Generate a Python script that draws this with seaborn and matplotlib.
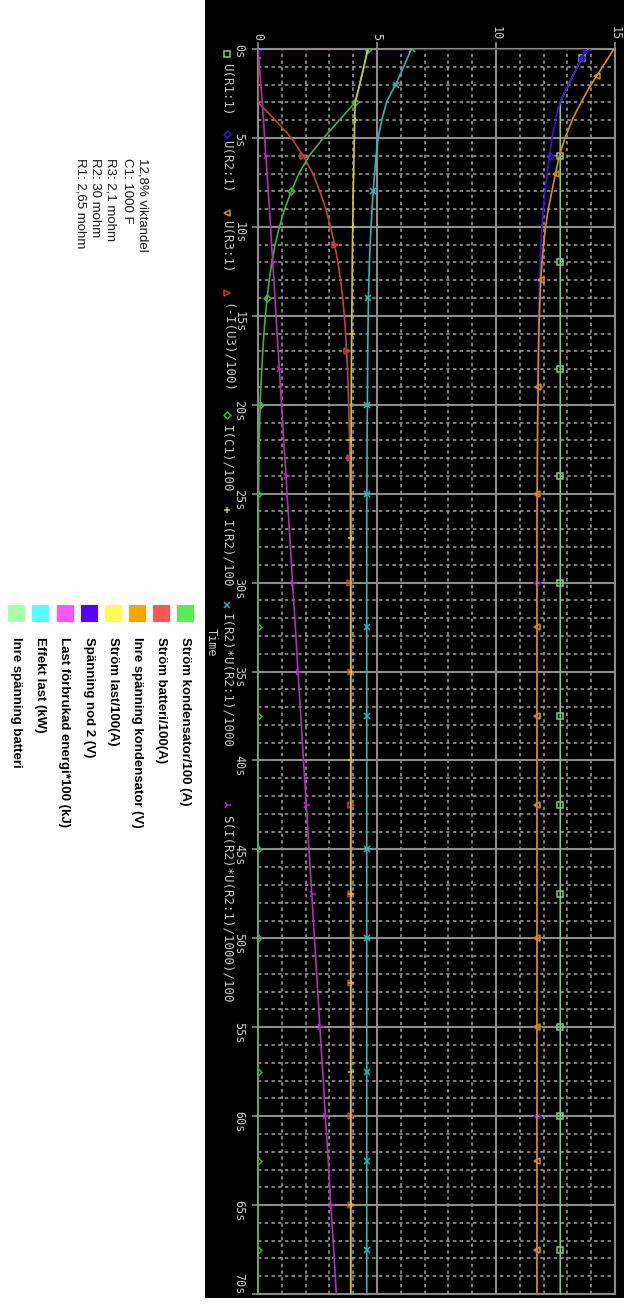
import numpy as np
import pandas as pd
import matplotlib
matplotlib.use("Agg")
import matplotlib.pyplot as plt
import seaborn as sns
from matplotlib.patches import Rectangle
from matplotlib.lines import Line2D

# ---------------- data ----------------
TIME_S = [0, 0, 0.5, 1, 1.5, 2, 2.5, 3, 3.5, 4, 5, 6, 7, 8, 9, 10, 11, 12, 13, 14,
          15, 16, 17, 18, 19, 20, 21, 22, 23, 24, 25, 27.5, 30, 32.5, 35, 37.5, 40,
          42.5, 45, 47.5, 50, 52.5, 55, 57.5, 60, 62.5, 65, 67.5, 70]

U_R1 = [0, 13.8, 13.6, 13.42, 13.23, 13.05, 12.87, 12.7, 12.7, 12.7, 12.7, 12.7, 12.7,
        12.7, 12.7, 12.7, 12.7, 12.7, 12.7, 12.7, 12.7, 12.7, 12.7, 12.7, 12.7, 12.7,
        12.7, 12.7, 12.7, 12.7, 12.7, 12.7, 12.7, 12.7, 12.7, 12.7, 12.7, 12.7, 12.7,
        12.7, 12.7, 12.7, 12.7, 12.7, 12.7, 12.7, 12.7, 12.7, 12.7]
U_R2 = [0, 13.8, 13.6, 13.42, 13.23, 13.05, 12.87, 12.7, 12.58, 12.5, 12.36, 12.25, 12.15,
        12.06, 11.99, 11.93, 11.89, 11.86, 11.83, 11.81, 11.79, 11.78, 11.77, 11.76,
        11.755, 11.75, 11.745, 11.74, 11.735, 11.73, 11.73, 11.72, 11.72, 11.72, 11.72,
        11.72, 11.72, 11.72, 11.72, 11.72, 11.72, 11.72, 11.72, 11.72, 11.72, 11.72,
        11.72, 11.72, 11.72]
U_R3 = [14.95, 14.95, 14.72, 14.48, 14.24, 14.0, 13.78, 13.58, 13.38, 13.2, 12.9, 12.66,
        12.5, 12.35, 12.2, 12.08, 12.0, 11.93, 11.88, 11.85, 11.82, 11.8, 11.79, 11.78,
        11.77, 11.76, 11.75, 11.745, 11.74, 11.735, 11.73, 11.72, 11.72, 11.72, 11.72,
        11.72, 11.72, 11.72, 11.72, 11.72, 11.72, 11.72, 11.72, 11.72, 11.72, 11.72,
        11.72, 11.72, 11.72]
I_U3 = [0, 0, 0, 0, 0, 0, 0, 0, 0.36, 0.73, 1.4, 1.9, 2.3, 2.6, 2.85, 3.05, 3.22, 3.36,
        3.47, 3.56, 3.63, 3.68, 3.72, 3.76, 3.79, 3.81, 3.83, 3.845, 3.855, 3.865, 3.87,
        3.88, 3.885, 3.89, 3.89, 3.89, 3.89, 3.89, 3.89, 3.89, 3.89, 3.89, 3.89, 3.89,
        3.89, 3.89, 3.89, 3.89, 3.89]
I_C1 = [0, 4.62, 4.53, 4.45, 4.36, 4.27, 4.18, 4.08, 3.75, 3.42, 2.75, 2.15, 1.72, 1.4,
        1.12, 0.9, 0.72, 0.58, 0.47, 0.38, 0.31, 0.25, 0.2, 0.16, 0.12, 0.09, 0.07, 0.05,
        0.04, 0.03, 0.02, 0.01, 0, 0, 0, 0, 0, 0, 0, 0, 0, 0, 0, 0, 0, 0, 0, 0, 0]
I_R2 = [0, 4.62, 4.53, 4.45, 4.36, 4.27, 4.18, 4.08, 4.07, 4.06, 4.05, 4.03, 4.02, 4.0,
        3.99, 3.98, 3.97, 3.96, 3.955, 3.95, 3.94, 3.935, 3.93, 3.925, 3.92, 3.918, 3.915,
        3.912, 3.91, 3.907, 3.905, 3.9, 3.9, 3.9, 3.9, 3.9, 3.9, 3.9, 3.9, 3.9, 3.9, 3.9,
        3.9, 3.9, 3.9, 3.9, 3.9, 3.9, 3.9]
P_R2 = [0, 6.45, 6.28, 6.12, 5.95, 5.79, 5.58, 5.4, 5.3, 5.2, 5.05, 4.96, 4.9, 4.84, 4.79,
        4.75, 4.71, 4.68, 4.66, 4.64, 4.63, 4.62, 4.61, 4.605, 4.6, 4.595, 4.59, 4.585,
        4.58, 4.58, 4.575, 4.57, 4.57, 4.57, 4.57, 4.57, 4.57, 4.57, 4.57, 4.57, 4.57,
        4.57, 4.57, 4.57, 4.57, 4.57, 4.57, 4.57, 4.57]
E_R2 = [0, 0, 0.03, 0.06, 0.09, 0.12, 0.15, 0.18, 0.2, 0.23, 0.28, 0.33, 0.38, 0.43, 0.48,
        0.53, 0.57, 0.62, 0.67, 0.71, 0.76, 0.8, 0.85, 0.9, 0.94, 0.99, 1.04, 1.08, 1.13,
        1.18, 1.22, 1.34, 1.45, 1.57, 1.68, 1.8, 1.91, 2.03, 2.14, 2.26, 2.37, 2.49, 2.6,
        2.72, 2.83, 2.95, 3.06, 3.18, 3.29]

TRACE_NAMES = ["U(R1:1)", "U(R2:1)", "U(R3:1)", "(-I(U3)/100)", "I(C1)/100",
               "I(R2)/100", "I(R2)*U(R2:1)/1000", "S(I(R2)*U(R2:1)/1000)/100"]
VALUE_TICKS = [0, 5, 10, 15]
VALUE_TICK_LABELS = ["0", "5", "10", "15"]
TIME_TICKS = list(range(0, 75, 5))
TIME_TICK_LABELS = ["0s", "5s", "10s", "15s", "20s", "25s", "30s", "35s", "40s", "45s",
                    "50s", "55s", "60s", "65s", "70s"]
AXIS_LABEL = "Time"

INFO_LINES = ["12,8% viktandel", "C1: 1000 F", "R3: 2,1 mohm", "R2: 30 mohm",
              "R1: 2,65 mohm"]
LEGEND_LABELS = ["Ström kondensator/100 (A)", "Ström batteri/100(A)",
                 "Inre spänning kondensator (V)", "Ström last/100(A)",
                 "Spänning nod 2 (V)", "Last förbrukad energi*100 (kJ)",
                 "Effekt last (kW)", "Inre spänning batteri"]
LEGEND_COLORS = ["#55ee55", "#ff5555", "#ffa500", "#ffff55", "#5500ff", "#ff55ff",
                 "#55ffff", "#aaffaa"]

# ---------------- styling ----------------
sns.set_theme(style="dark")
plt.rcParams['font.family'] = ['DejaVu Sans']

W, H = 624, 1305
fig = plt.figure(figsize=(W / 100, H / 100), dpi=100, facecolor="white")


def fx(px):
    return px / W


def fy(py):
    return 1 - py / H


# black scope panel (behind the axes)
fig.patches.append(Rectangle((fx(205), fy(1298)), 1 - fx(205), 1 - fy(1298),
                             transform=fig.transFigure, facecolor="black",
                             edgecolor="none", zorder=-5))

ax = fig.add_axes([fx(258), fy(1294), fx(615) - fx(258), fy(49) - fy(1294)])
ax.set_zorder(1)
ax.set_facecolor("black")
ax.set_xlim(0, 15)
ax.set_ylim(70, 0)

series = [
    (U_R1, "#82c882", "s", 4.5, 0.258),
    (U_R2, "#4010d8", "D", 3.5, 0.0147),
    (U_R3, "#d99000", "<", 4.5, 0.026),
    (I_U3, "#c44040", ">", 4.5, 0.004),
    (I_C1, "#40b040", "D", 3.5, 0.0456),
    (I_R2, "#c8c830", "+", 5, 0.0564),
    (P_R2, "#30b4b4", "x", 4.5, 0.0664),
    (E_R2, "#b030b0", "4", 6, 0.077),
]
for vals, col, mk, ms, start in series:
    sns.lineplot(x=vals, y=TIME_S, ax=ax, color=col, lw=1.2, estimator=None,
                 sort=False, orient="y", marker=mk, markersize=ms,
                 markevery=(start, 0.0834), markerfacecolor="none",
                 markeredgecolor=col, markeredgewidth=1.1, legend=False, zorder=3)

ax.set_xticks(VALUE_TICKS)
ax.set_xticklabels(VALUE_TICK_LABELS)
ax.set_xticks(np.arange(0, 16, 1), minor=True)
ax.set_yticks(TIME_TICKS)
ax.set_yticklabels(TIME_TICK_LABELS)
ax.set_yticks(np.arange(0, 71, 1), minor=True)
ax.set_xlabel("")
ax.set_ylabel("")
ax.xaxis.tick_top()
ax.set_axisbelow(True)
ax.grid(which="major", color="#8c8c8c", lw=1.5, ls="-")
ax.grid(which="minor", color="#a0a0a0", lw=1.1, ls=(0, (2.2, 2.2)))
for sp in ax.spines.values():
    sp.set_color("#8c8c8c")
    sp.set_linewidth(1.5)

ax.tick_params(axis="x", which="major", length=5, width=1.2, pad=1.5, colors="#8c8c8c",
               labelcolor="#c8c8c8", labelsize=8.5, labelrotation=-90, top=True,
               bottom=False)
ax.tick_params(axis="y", which="major", length=4, width=1.2, pad=5, colors="#8c8c8c",
               labelcolor="#c8c8c8", labelsize=8.5, labelrotation=-90, left=True)
ax.tick_params(which="minor", length=0)
for lab in ax.get_xticklabels() + ax.get_yticklabels():
    lab.set_fontfamily("DejaVu Sans Mono")
# last time label sits above its tick so it stays inside the panel
ax.get_yticklabels()[-1].set_va("bottom")

# in-panel trace legend (rotated header row)
mono = "DejaVu Sans Mono"
mk_y = [54, 134, 213, 293, 415, 510, 605, 805]
txt_y = [63, 140, 220, 303, 425, 520, 613, 815]
for (vals, col, mk, ms, start), name, my, ty in zip(series, TRACE_NAMES, mk_y, txt_y):
    fig.add_artist(Line2D([fx(227)], [fy(my)], transform=fig.transFigure, marker=mk,
                          markersize=ms, markerfacecolor="none", markeredgecolor=col,
                          markeredgewidth=1.1, linestyle="none", zorder=3))
    fig.text(fx(227), fy(ty), name, rotation=-90, rotation_mode="anchor", ha="left",
             va="center", color="#c8c8c8", fontsize=9, family=mono, zorder=3)
fig.text(fx(211), fy(628), AXIS_LABEL, rotation=-90, rotation_mode="anchor", ha="left",
         va="center", color="#c8c8c8", fontsize=8.5, family=mono, zorder=3)

# info block on white side
for i, line in enumerate(INFO_LINES):
    fig.text(fx(142 - i * 15.5), fy(158), line, rotation=-90, rotation_mode="anchor",
             ha="left", va="center", color="#1a1a1a", fontsize=9.5,
             family="Liberation Sans")

# colour legend on white side
for i, (lab, col) in enumerate(zip(LEGEND_LABELS, LEGEND_COLORS)):
    xc = 185 - i * 24.1
    fig.patches.append(Rectangle((fx(xc - 8), fy(621)), 16 / W, 16 / H,
                                 transform=fig.transFigure, facecolor=col,
                                 edgecolor=col, lw=0.8, zorder=2))
    fig.text(fx(xc), fy(637), lab, rotation=-90, rotation_mode="anchor", ha="left",
             va="center", color="black", fontsize=9.5, fontweight="bold",
             family="Liberation Sans")

fig.savefig("out.png", dpi=100, facecolor="white")
